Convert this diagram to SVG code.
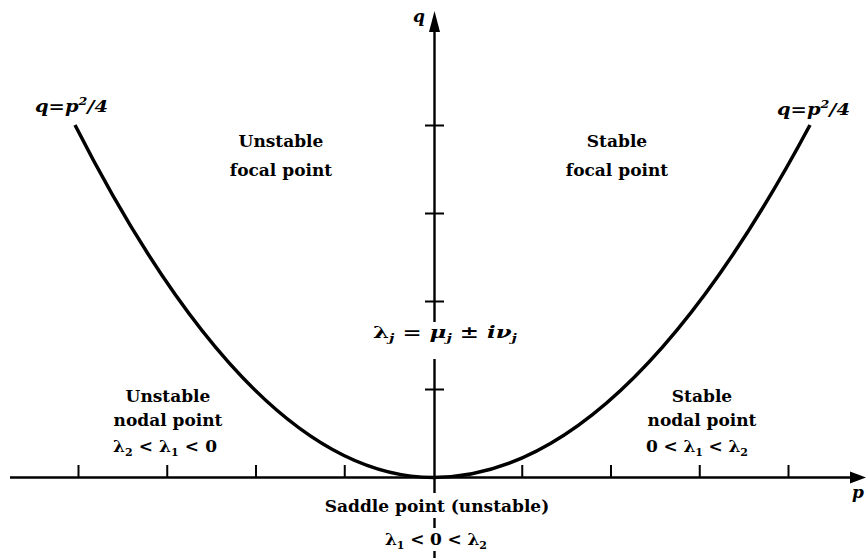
<svg xmlns="http://www.w3.org/2000/svg" width="866" height="558" viewBox="0 0 866 558">
<style>
text{font-family:"DejaVu Serif","Liberation Serif",serif;font-weight:bold;font-size:17px;fill:#000}
.c{text-anchor:middle}
.m{font-style:italic}
.ax{stroke:#000;stroke-width:2.4;fill:none}
.tk{stroke:#000;stroke-width:2;fill:none}
.sub{font-size:11px}
</style>
<rect width="866" height="558" fill="#fff"/>
<g id="axes">
<path class="ax" d="M10 477.5H852"/>
<path d="M866 477.5L850 471.5L850 483.5Z" fill="#000"/>
<path class="ax" d="M434.5 30V322M434.5 359V493M434.5 518V528M434.5 551V558"/>
<path d="M434.5 11L429 32L440 32Z" fill="#000"/>
<path class="tk" d="M78.5 477.5V465M167.25 477.5V465M256 477.5V465M344.75 477.5V465M522.25 477.5V465M611 477.5V465M699.75 477.5V465M788.5 477.5V465"/>
<path class="tk" d="M425 125.5H444M425 213.5H444M425 301.5H444M425 389.5H444"/>
<text class="m" x="413" y="22">q</text>
<text class="m" x="852" y="498">p</text>
</g>
<g id="curve">
<path d="M75 125Q254.25 477.5 433.5 477.5Q621.75 477.5 810 125" fill="none" stroke="#000" stroke-width="3.5"/>
</g>
<g id="labels">
<text class="m" x="35" y="112" textLength="73" lengthAdjust="spacingAndGlyphs">q=p<tspan class="sub" dy="-7">2</tspan><tspan dy="7">/4</tspan></text>
<text class="m" x="777" y="115" textLength="73" lengthAdjust="spacingAndGlyphs">q=p<tspan class="sub" dy="-7">2</tspan><tspan dy="7">/4</tspan></text>
<text class="c" x="281" y="147">Unstable</text>
<text class="c" x="281" y="176">focal point</text>
<text class="c" x="617" y="147">Stable</text>
<text class="c" x="617" y="176">focal point</text>
<text x="373" y="338" textLength="144" lengthAdjust="spacingAndGlyphs">λ<tspan class="sub m" dy="4">j</tspan><tspan dy="-4"> = </tspan><tspan class="m">μ</tspan><tspan class="sub m" dy="4">j</tspan><tspan dy="-4"> ± </tspan><tspan class="m">iν</tspan><tspan class="sub m" dy="4">j</tspan></text>
<text class="c" x="168" y="402">Unstable</text>
<text class="c" x="168" y="426">nodal point</text>
<text x="113" y="452" textLength="104" lengthAdjust="spacing">λ<tspan class="sub" dy="4">2</tspan><tspan dy="-4"> &lt; λ</tspan><tspan class="sub" dy="4">1</tspan><tspan dy="-4"> &lt; 0</tspan></text>
<text class="c" x="702" y="402">Stable</text>
<text class="c" x="702" y="426">nodal point</text>
<text x="646" y="452" textLength="102" lengthAdjust="spacing">0 &lt; λ<tspan class="sub" dy="4">1</tspan><tspan dy="-4"> &lt; λ</tspan><tspan class="sub" dy="4">2</tspan></text>
<text class="c" x="437" y="512">Saddle point (unstable)</text>
<text x="385" y="545" textLength="102" lengthAdjust="spacing">λ<tspan class="sub" dy="4">1</tspan><tspan dy="-4"> &lt; 0 &lt; λ</tspan><tspan class="sub" dy="4">2</tspan></text>
</g>
</svg>
